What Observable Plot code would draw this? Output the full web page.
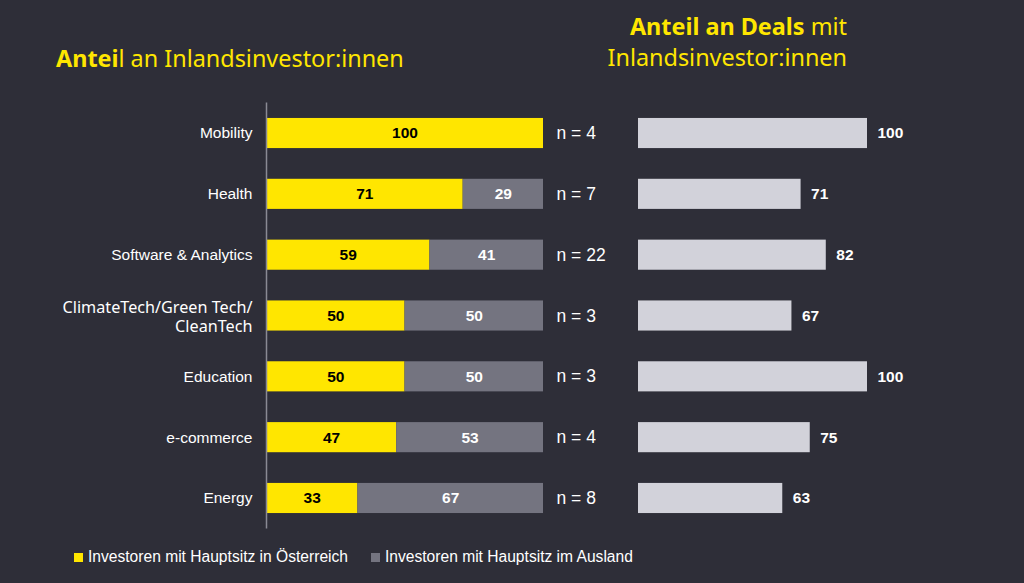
<!DOCTYPE html>
<html>
<head>
<meta charset="utf-8">
<script src="https://cdn.jsdelivr.net/npm/d3@7"></script>
<script src="https://cdn.jsdelivr.net/npm/@observablehq/plot@0.6"></script>
<style>
  html, body { margin: 0; padding: 0; background: #2e2e38; }
  #wrap { position: relative; width: 1024px; height: 583px; background: #2e2e38; overflow: hidden; font-family: "Liberation Sans", Arial, sans-serif; }
  .plot { position: absolute; top: 0; }
  .title { position: absolute; color: #ffe600; font-family: "Noto Sans", "Open Sans", sans-serif; font-size: 23.4px; white-space: nowrap; }
  .legend { position: absolute; left: 74px; top: 548px; color: #ffffff; font-size: 15.6px; display: flex; align-items: center; white-space: nowrap; }
  .sw { display: inline-block; width: 9px; height: 9px; margin-right: 5px; }
</style>
</head>
<body>
<div id="wrap">
  <div class="title" style="left:56px; top:42px;"><b>Antei</b>l an Inlandsinvestor:innen</div>
  <div class="title" style="right:177px; top:11px; text-align:right; line-height:31px;"><b>Anteil an Deals</b> mit<br>Inlandsinvestor:innen</div>
  <div id="p1" class="plot" style="left:0px;"></div>
  <div id="p2" class="plot" style="left:600px;"></div>
  <div class="legend">
    <span class="sw" style="background:#ffe600"></span><span id="lg1"></span>
    <span class="sw" style="background:#747480; margin-left:23px;"></span><span id="lg2"></span>
  </div>
</div>
<script>
const categories = ["Mobility", "Health", "Software & Analytics", "ClimateTech/Green Tech/CleanTech", "Education", "e-commerce", "Energy"];
const tickLabels = ["Mobility", "Health", "Software & Analytics", "ClimateTech/Green Tech/\nCleanTech", "Education", "e-commerce", "Energy"];
const seriesNames = ["Investoren mit Hauptsitz in Österreich", "Investoren mit Hauptsitz im Ausland"];
const oesterreich = [100, 71, 59, 50, 50, 47, 33];
const ausland = [0, 29, 41, 50, 50, 53, 67];
const nValues = [4, 7, 22, 3, 3, 4, 8];
const deals = [100, 71, 82, 67, 100, 75, 63];

document.getElementById("lg1").textContent = seriesNames[0];
document.getElementById("lg2").textContent = seriesNames[1];

const colors = ["#ffe600", "#747480"];
const labelColors = ["#000000", "#ffffff"];

const stacked = [];
categories.forEach((c, i) => {
  stacked.push({cat: c, series: seriesNames[0], value: oesterreich[i]});
  stacked.push({cat: c, series: seriesNames[1], value: ausland[i]});
});
const nData = categories.map((c, i) => ({cat: c, n: nValues[i]}));
const dealData = categories.map((c, i) => ({cat: c, value: deals[i]}));
const tickMap = new Map(categories.map((c, i) => [c, tickLabels[i]]));
const wideCat = categories[3];

const font = "Liberation Sans, Arial, sans-serif";
const yBand = {domain: categories, paddingInner: 0.505, paddingOuter: 0.2525, align: 0.5, round: false};

const p1 = Plot.plot({
  width: 630,
  height: 530,
  marginLeft: 266,
  marginRight: 87,
  marginTop: 102.6,
  marginBottom: 1.6,
  style: {background: "transparent", fontFamily: font, fontSize: "15px", color: "#ffffff"},
  x: {domain: [0, 100], axis: null},
  y: {...yBand, label: null, axis: null},
  color: {domain: seriesNames, range: colors},
  marks: [
    Plot.barX(stacked, Plot.stackX({x: "value", y: "cat", fill: "series", order: seriesNames, filter: d => d.value > 0})),
    Plot.textX(stacked, Plot.stackX({x: "value", y: "cat", order: seriesNames, filter: d => d.value > 0,
      text: d => String(d.value), fill: d => d.series === seriesNames[0] ? labelColors[0] : labelColors[1],
      fontWeight: "bold", fontSize: 15.5})),
    Plot.text(nData, {x: 100, y: "cat", text: d => `n = ${d.n}`, dx: 13, textAnchor: "start", fill: "#ffffff", fontSize: 17.5}),
    Plot.axisY({ticks: categories.filter(c => c !== wideCat), tickSize: 0, tickPadding: 14, fill: "#ffffff", fontSize: 15.5, label: null}),
    Plot.axisY({ticks: [wideCat], tickSize: 0, tickPadding: 14, tickFormat: d => tickMap.get(d), fill: "#ffffff", fontSize: 16.2, fontFamily: "Noto Sans, sans-serif", lineHeight: 1.18, label: null}),
    Plot.ruleX([0], {stroke: "#8a8a94", strokeWidth: 1.5})
  ]
});
document.getElementById("p1").appendChild(p1);

const p2 = Plot.plot({
  width: 424,
  height: 530,
  marginLeft: 38,
  marginRight: 157,
  marginTop: 102.6,
  marginBottom: 1.6,
  style: {background: "transparent", fontFamily: font, fontSize: "15px", color: "#ffffff"},
  x: {domain: [0, 100], axis: null},
  y: {...yBand, axis: null},
  marks: [
    Plot.barX(dealData, {x: "value", y: "cat", fill: "#d2d2da"}),
    Plot.text(dealData, {x: "value", y: "cat", text: d => String(d.value), dx: 10, textAnchor: "start", fill: "#ffffff", fontWeight: "bold", fontSize: 15.5})
  ]
});
document.getElementById("p2").appendChild(p2);
</script>
</body>
</html>
